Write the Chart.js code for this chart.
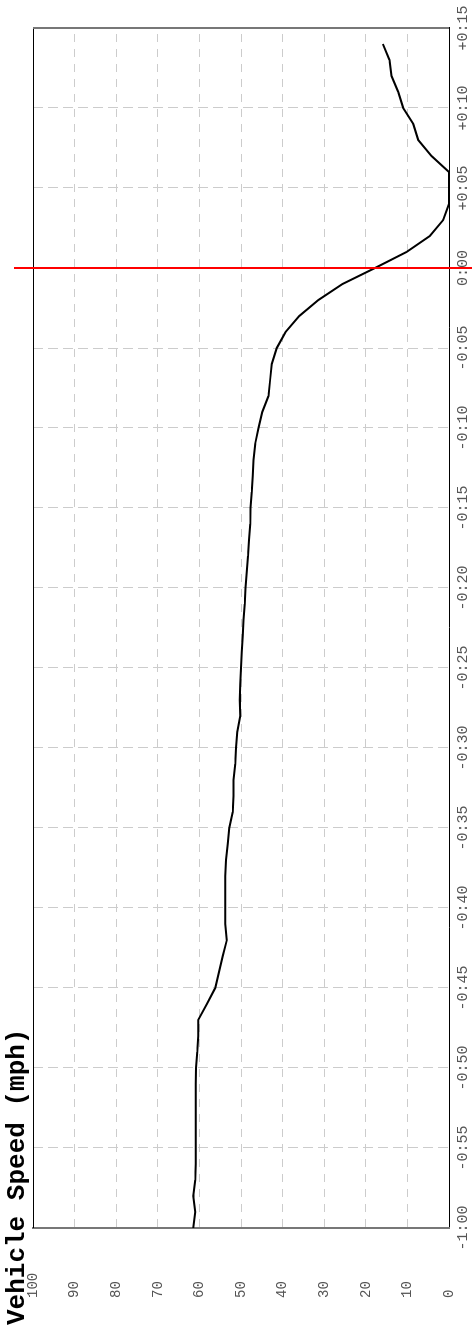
<!DOCTYPE html>
<html>
<head>
<meta charset="utf-8">
<title>Vehicle Speed</title>
<script src="https://cdn.jsdelivr.net/npm/chart.js@4.4.1/dist/chart.umd.min.js"></script>
<style>
    html, body { margin: 0; padding: 0; background: #fff; overflow: hidden; }
    /* chart is drawn landscape then turned a quarter turn to the left */
    #wrap {
        position: absolute; left: 0; top: 0;
        width: 1330px; height: 472px;
        transform-origin: 0 0;
        transform: translateY(1330px) rotate(-90deg);
    }
</style>
</head>
<body>
<div id="wrap"><canvas id="speedChart" width="1330" height="472"></canvas></div>
<script>
// seconds relative to the event
var timeSec = [-60, -59, -58, -57, -56, -55, -54, -53, -52, -51,
    -50, -49, -48, -47, -46, -45, -44, -43, -42, -41,
    -40, -39, -38, -37, -36, -35, -34, -33, -32, -31,
    -30, -29, -28, -27, -26, -25, -24, -23, -22, -21,
    -20, -19, -18, -17, -16, -15, -14, -13, -12, -11,
    -10, -9, -8, -7, -6, -5, -4, -3, -2, -1,
    0, 1, 2, 3, 4, 5, 6, 7, 8, 9,
    10, 11, 12, 13, 14];
// mph
var speedMph = [61.5, 61.0, 61.5, 61.0, 60.9, 60.9, 60.9, 60.9, 60.9, 60.9,
    60.8, 60.5, 60.3, 60.3, 58.2, 56.2, 55.3, 54.4, 53.4, 53.8,
    53.8, 53.8, 53.8, 53.6, 53.2, 52.8, 52.0, 51.8, 51.8, 51.4,
    51.2, 50.9, 50.2, 50.3, 50.2, 50.0, 49.8, 49.6, 49.4, 49.1,
    48.9, 48.6, 48.3, 48.1, 47.8, 47.7, 47.4, 47.2, 47.0, 46.6,
    45.8, 44.9, 43.4, 43.0, 42.6, 41.4, 39.3, 36.0, 31.4, 25.6,
    17.8, 10.2, 4.6, 1.4, 0, 0, 0, 4.2, 7.4, 8.6,
    11.0, 12.2, 13.8, 14.3, 15.9];
var timeTickLabels = ['-1:00', '-0:55', '-0:50', '-0:45', '-0:40', '-0:35', '-0:30', '-0:25',
    '-0:20', '-0:15', '-0:10', '-0:05', '0:00', '+0:05', '+0:10', '+0:15'];
var speedTickLabels = ['0', '10', '20', '30', '40', '50', '60', '70', '80', '90', '100'];
var chartTitle = 'Vehicle Speed (mph)';
var eventTime = 0;

var monoFont = '"Courier New", "Liberation Mono", monospace';

var points = [];
for (var i = 0; i < timeSec.length; i++) {
    points.push({x: timeSec[i], y: speedMph[i]});
}

// title sits at the far left of the canvas, left of the speed labels,
// so it is drawn here instead of through the title plugin
var framePlugin = {
    id: 'frame',
    afterDraw: function (chart) {
        var ctx = chart.ctx;
        var a = chart.chartArea;
        ctx.save();
        // top + right edges of the plot box
        ctx.strokeStyle = '#000';
        ctx.lineWidth = 1;
        ctx.beginPath();
        ctx.moveTo(a.left, a.top + 0.5);
        ctx.lineTo(a.right, a.top + 0.5);
        ctx.stroke();
        ctx.strokeStyle = '#777';
        ctx.lineWidth = 2;
        ctx.beginPath();
        ctx.moveTo(a.right, a.top);
        ctx.lineTo(a.right, a.bottom);
        ctx.stroke();

        // red marker at 0:00
        var x0 = chart.scales.x.getPixelForValue(eventTime);
        ctx.strokeStyle = '#ff0000';
        ctx.lineWidth = 2;
        ctx.beginPath();
        ctx.moveTo(x0, a.top - 19);
        ctx.lineTo(x0, chart.height);
        ctx.stroke();

        ctx.fillStyle = '#000';
        ctx.font = 'bold 26px ' + monoFont;
        ctx.textAlign = 'left';
        ctx.textBaseline = 'alphabetic';
        ctx.fillText(chartTitle, 5, a.top - 9);
        ctx.restore();
    }
};

var ctx = document.getElementById('speedChart').getContext('2d');
var speedChart = new Chart(ctx, {
    type: 'line',
    data: {
        datasets: [{
            label: 'Vehicle Speed',
            data: points,
            borderColor: '#000',
            borderWidth: 2,
            pointRadius: 0,
            tension: 0,
            fill: false
        }]
    },
    options: {
        responsive: false,
        animation: false,
        layout: {padding: {left: 32, right: 28, top: 33, bottom: 0}},
        plugins: {
            legend: {display: false},
            tooltip: {enabled: false},
            title: {display: false}
        },
        scales: {
            x: {
                type: 'linear',
                min: -60,
                max: 15,
                ticks: {
                    stepSize: 5,
                    autoSkip: false,
                    maxRotation: 0,
                    padding: 5,
                    color: '#555',
                    font: {family: monoFont, size: 15},
                    callback: function (v, i) { return timeTickLabels[i]; }
                },
                grid: {color: '#ccc', lineWidth: 1, drawTicks: false},
                border: {color: '#000', width: 1, dash: [10, 5]},
                afterFit: function (scale) { scale.height = 23; }
            },
            y: {
                min: 0,
                max: 100,
                ticks: {
                    stepSize: 10,
                    crossAlign: 'far',
                    color: '#555',
                    font: {family: monoFont, size: 14},
                    callback: function (v, i) { return speedTickLabels[i]; }
                },
                grid: {color: '#ccc', lineWidth: 1, drawTicks: false},
                border: {color: '#777', width: 2, dash: [8, 7]},
                afterFit: function (scale) { scale.width = 70; }
            }
        }
    },
    plugins: [framePlugin]
});
</script>
</body>
</html>
